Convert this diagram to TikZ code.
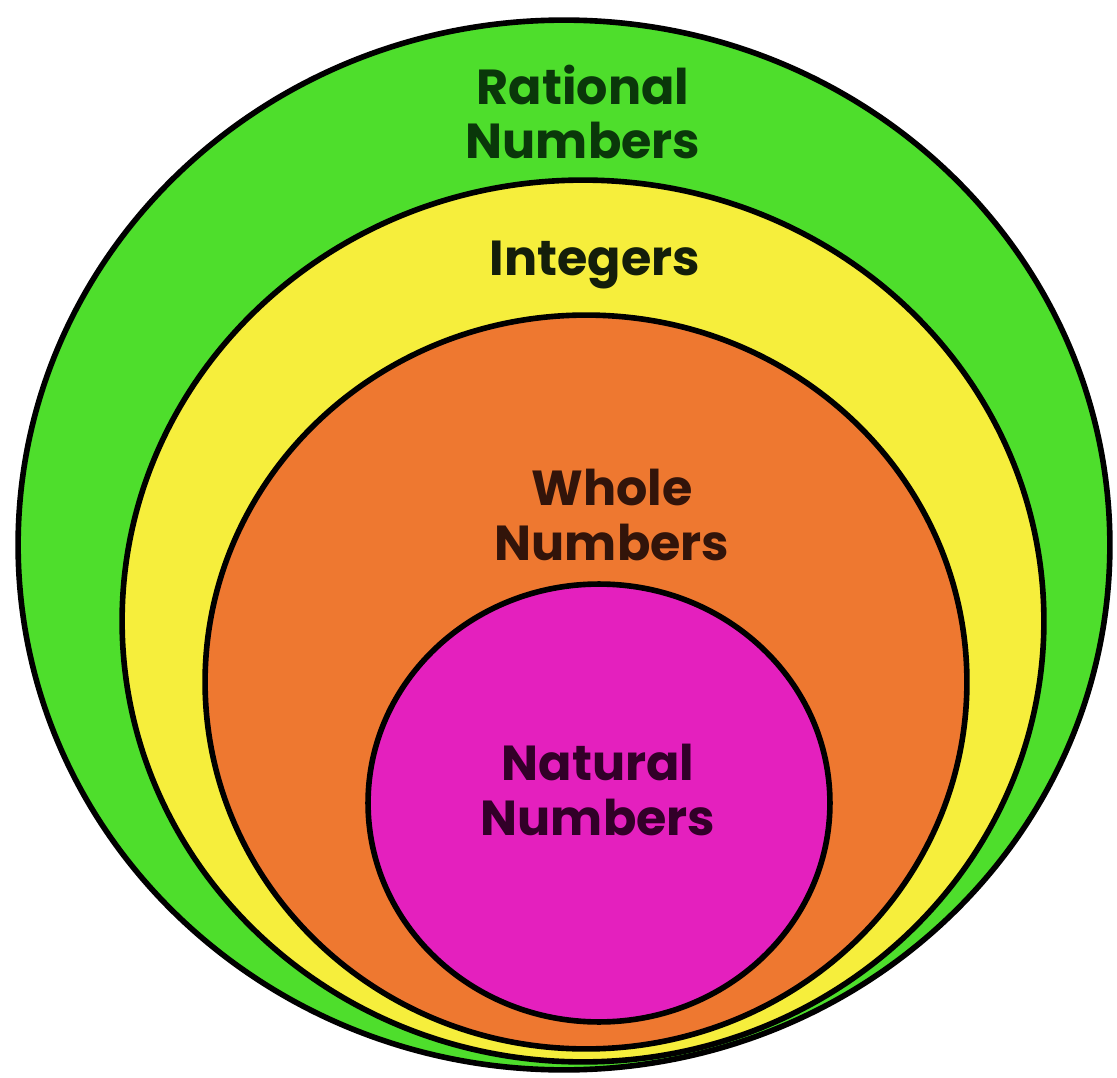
\documentclass[tikz,border=0pt]{standalone}
\usepackage{fontspec}
\setmainfont{Poppins}
\usetikzlibrary{shapes.geometric,positioning}
\definecolor{ratgreen}{RGB}{78,222,44}
\definecolor{intyellow}{RGB}{246,238,60}
\definecolor{wholeorange}{RGB}{238,120,48}
\definecolor{natmagenta}{RGB}{228,32,190}
\definecolor{inkdark}{RGB}{20,30,10}
\definecolor{inkgreen}{RGB}{10,55,10}
\definecolor{inkbrown}{RGB}{50,20,10}
\definecolor{inkpurple}{RGB}{50,0,40}

\begin{document}
\begin{tikzpicture}[x=0.02cm, y=-0.02cm,
    setring/.style={ellipse, draw=black, line width=3.2pt, inner sep=0pt},
    setlabel/.style={align=center, font=\fontsize{28}{31}\selectfont\bfseries, text=inkdark, inner sep=0pt}]
    \useasboundingbox (0,0) rectangle (1117,1078);

    % nested sets, all touching near the bottom
    \node[setring, fill=ratgreen, minimum width=21.84cm, minimum height=21cm] (rational) at (564,545) {};
    \node[setring, fill=intyellow, minimum width=18.44cm, minimum height=17.64cm] (integers) at (583,621) {};
    \node[setring, fill=wholeorange, minimum width=15.24cm, minimum height=14.68cm] (whole) at (586,682) {};
    \node[setring, fill=natmagenta, minimum width=9.24cm, minimum height=8.76cm] (natural) at (599,803) {};

    \node[setlabel, text=inkgreen] (ratlabel) at (583,112) {Rational\\Numbers};
    \node[setlabel] (intlabel) at (595,265) {Integers};
    \node[setlabel, text=inkbrown] (wholelabel) at (612,515) {Whole\\Numbers};
    \node[setlabel, text=inkpurple] (natlabel) at (598,790) {Natural\\Numbers};
\end{tikzpicture}
\end{document}
